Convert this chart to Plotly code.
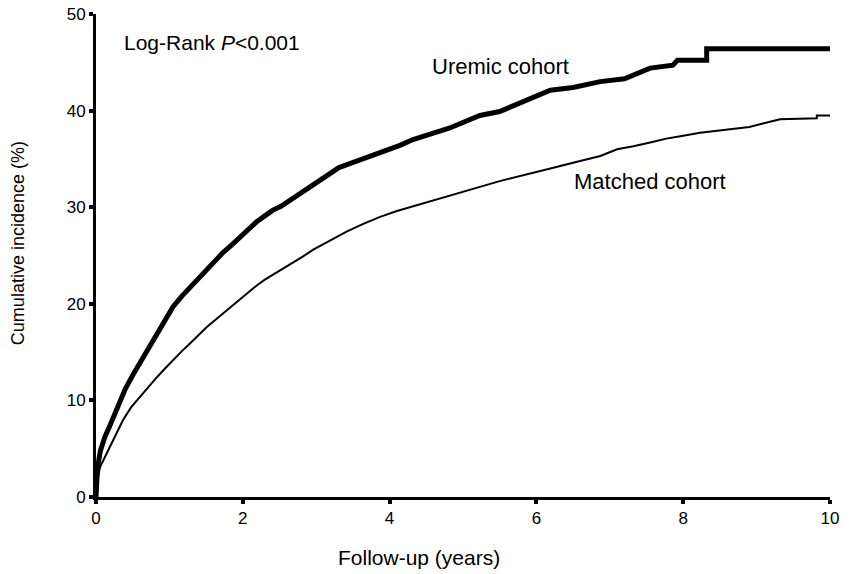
import plotly.graph_objects as go

# Cumulative incidence (%)
uremic_years = [0, 0.02, 0.06, 0.12, 0.19, 0.28, 0.4, 0.5, 0.6, 0.72, 0.83, 0.94, 1.05,
                1.17, 1.28, 1.4, 1.51, 1.62, 1.73, 1.85, 1.96, 2.08, 2.19, 2.3, 2.41,
                2.52, 2.64, 2.8, 2.96, 3.08, 3.2, 3.31, 3.42, 3.65, 3.87, 4.0, 4.14,
                4.32, 4.5, 4.65, 4.82, 5.02, 5.23, 5.5, 5.85, 6.0, 6.19, 6.5, 6.87,
                7.2, 7.41, 7.55, 7.86, 7.92, 8.32, 8.32, 10]
uremic_inc = [0, 3.0, 4.8, 6.2, 7.4, 9.1, 11.2, 12.6, 13.9, 15.5, 17.0, 18.4, 19.7,
              20.8, 21.7, 22.6, 23.5, 24.4, 25.3, 26.1, 26.9, 27.7, 28.5, 29.1, 29.7,
              30.1, 30.7, 31.6, 32.3, 32.9, 33.5, 34.1, 34.4, 35.0, 35.6, 36.0, 36.4,
              37.0, 37.5, 37.8, 38.2, 38.9, 39.5, 39.9, 41.0, 41.5, 42.1, 42.4, 43.0,
              43.3, 43.9, 44.4, 44.7, 45.2, 45.2, 46.4, 46.4]

matched_years = [0, 0.02, 0.055, 0.12, 0.19, 0.28, 0.37, 0.48, 0.6, 0.72, 0.83, 0.94,
                 1.05, 1.17, 1.28, 1.4, 1.51, 1.62, 1.73, 1.85, 1.96, 2.08, 2.19, 2.3,
                 2.41, 2.52, 2.64, 2.8, 2.96, 3.2, 3.42, 3.65, 3.87, 4.1, 4.32, 4.55,
                 4.78, 5.0, 5.23, 5.5, 5.85, 6.19, 6.5, 6.87, 7.1, 7.32, 7.55, 7.77,
                 8.0, 8.23, 8.55, 8.9, 9.1, 9.32, 9.82, 9.82, 10]
matched_inc = [0, 1.8, 3.1, 4.2, 5.2, 6.6, 8.0, 9.3, 10.4, 11.5, 12.4, 13.3,
               14.2, 15.1, 15.9, 16.8, 17.6, 18.3, 19.0, 19.8, 20.5, 21.2, 21.9, 22.5,
               23.0, 23.5, 24.0, 24.8, 25.6, 26.6, 27.5, 28.3, 29.0, 29.6, 30.1, 30.6,
               31.1, 31.6, 32.1, 32.7, 33.4, 34.0, 34.6, 35.3, 36.0, 36.3, 36.7, 37.1,
               37.4, 37.7, 38.0, 38.3, 38.7, 39.1, 39.2, 39.5, 39.5]

x_ticks = [0, 2, 4, 6, 8, 10]
y_ticks = [0, 10, 20, 30, 40, 50]

FONT = "Arial, Liberation Sans, sans-serif"

fig = go.Figure()
fig.add_trace(go.Scatter(x=matched_years, y=matched_inc, mode="lines",
                         line=dict(color="black", width=2), name="Matched cohort",
                         showlegend=False))
fig.add_trace(go.Scatter(x=uremic_years, y=uremic_inc, mode="lines",
                         line=dict(color="black", width=5), name="Uremic cohort",
                         showlegend=False))

axis_common = dict(showgrid=False, zeroline=False, showline=True, linecolor="black",
                   linewidth=3, ticks="outside", ticklen=4, tickwidth=4,
                   tickcolor="black", automargin=False, ticklabeloverflow="allow",
                   tickfont=dict(size=17, family=FONT))

fig.update_layout(
    width=851, height=574,
    margin=dict(l=88, r=29, t=6, b=85, pad=0),
    paper_bgcolor="white", plot_bgcolor="white",
    font=dict(family=FONT, color="black"),
    xaxis=dict(range=[0, 10], tickvals=x_ticks, ticktext=[str(v) for v in x_ticks],
               **axis_common),
    yaxis=dict(range=[0, 50], tickvals=y_ticks, ticktext=[str(v) for v in y_ticks],
               **axis_common),
    annotations=[
        dict(text="Log-Rank <i>P</i><0.001", x=0.36, y=47, xref="x", yref="y",
             xanchor="left", yanchor="middle", showarrow=False,
             font=dict(size=21, family=FONT)),
        dict(text="Uremic cohort", x=4.55, y=44.6, xref="x", yref="y",
             xanchor="left", yanchor="middle", showarrow=False,
             font=dict(size=22, family=FONT)),
        dict(text="Matched cohort", x=6.48, y=32.7, xref="x", yref="y",
             xanchor="left", yanchor="middle", showarrow=False,
             font=dict(size=22, family=FONT)),
        dict(text="Follow-up (years)", x=0.44, y=-0.125, xref="paper", yref="paper",
             xanchor="center", yanchor="middle", showarrow=False,
             font=dict(size=21, family=FONT)),
        dict(text="Cumulative incidence (%)", x=-0.106, y=0.526, xref="paper",
             yref="paper", xanchor="center", yanchor="middle", textangle=-90,
             showarrow=False, font=dict(size=18, family=FONT)),
        dict(text="k", x=-0.131, y=-0.14, xref="paper", yref="paper",
             xanchor="left", yanchor="top", showarrow=False,
             font=dict(size=20, family=FONT)),
    ],
)

fig.write_html("out.html")
